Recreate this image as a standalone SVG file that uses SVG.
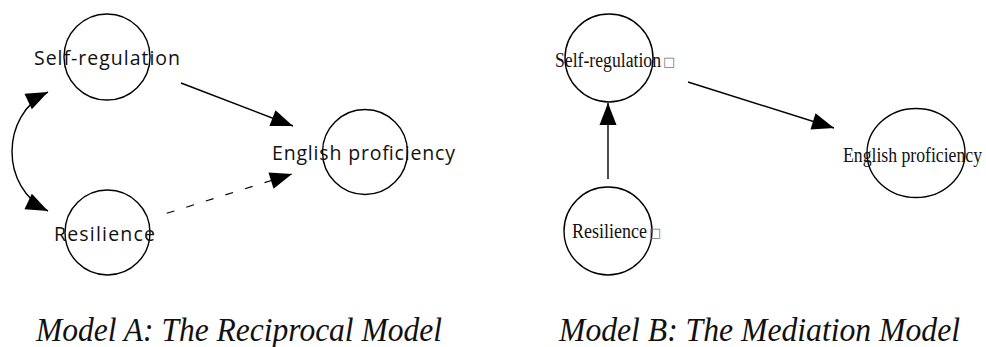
<svg xmlns="http://www.w3.org/2000/svg" width="986" height="347" viewBox="0 0 986 347">
  <style>
    .node { fill: none; stroke: #000; stroke-width: 1.4; }
    .edge { fill: none; stroke: #000; stroke-width: 1.4; }
    .dash { stroke-width: 1.1; stroke-dasharray: 8 12.5; }
    .sans { font-family: "Open Sans", "DejaVu Sans", sans-serif; font-size: 19.5px; fill: #111; }
    .serif { font-family: "Liberation Serif", "Times New Roman", serif; font-size: 20px; fill: #111; }
    .box { font-family: "DejaVu Sans", sans-serif; font-size: 13px; fill: #777; }
    .title { font-family: "Liberation Serif", "Times New Roman", serif; font-style: italic; font-size: 33px; fill: #111; }
  </style>
  <defs>
    <marker id="head" markerUnits="userSpaceOnUse" viewBox="-23 -9 24 18" refX="0" refY="0" markerWidth="24" markerHeight="18" orient="auto-start-reverse">
      <path d="M0,0 L-22,-8.5 L-22,8.5 Z" fill="#000"/>
    </marker>
  </defs>
  <rect width="986" height="347" fill="#fff"/>

  <!-- Model A: reciprocal model -->
  <g id="a-self-regulation">
    <circle class="node" cx="107" cy="57" r="43"/>
    <text class="sans" x="34" y="65" textLength="146" lengthAdjust="spacing">Self-regulation</text>
  </g>
  <g id="a-resilience">
    <circle class="node" cx="107.5" cy="232.5" r="42.5"/>
    <text class="sans" x="54" y="241" textLength="101" lengthAdjust="spacing">Resilience</text>
  </g>
  <g id="a-english">
    <circle class="node" cx="365" cy="152" r="42.5"/>
    <text class="sans" x="272" y="160" textLength="183" lengthAdjust="spacing">English proficiency</text>
  </g>

  <!-- Model B: mediation model -->
  <g id="b-self-regulation">
    <ellipse class="node" cx="609" cy="58" rx="44" ry="44"/>
    <text class="serif" x="555" y="67"><tspan textLength="106" lengthAdjust="spacingAndGlyphs">Self-regulation</tspan><tspan class="box" dx="2" dy="-1">□</tspan></text>
  </g>
  <g id="b-resilience">
    <ellipse class="node" cx="608" cy="231" rx="44" ry="44"/>
    <text class="serif" x="572" y="238"><tspan textLength="75" lengthAdjust="spacingAndGlyphs">Resilience</tspan><tspan class="box" dx="2" dy="-1">□</tspan></text>
  </g>
  <g id="b-english">
    <ellipse class="node" cx="916" cy="153" rx="49" ry="44.5"/>
    <text class="serif" x="843" y="162" textLength="139" lengthAdjust="spacingAndGlyphs">English proficiency</text>
  </g>

  <g id="connectors">
    <path class="edge" d="M48,92 C0,115 0,188 48,211" marker-start="url(#head)" marker-end="url(#head)"/>
    <path class="edge" d="M181,83 L293,126" marker-end="url(#head)"/>
    <path class="edge dash" d="M166.7,213.3 L292,174" marker-end="url(#head)"/>
    <path class="edge" d="M608,179 L608,103" marker-end="url(#head)"/>
    <path class="edge" d="M688,82 L834,128" marker-end="url(#head)"/>
  </g>

  <g id="captions">
    <text class="title" x="36" y="341" textLength="406" lengthAdjust="spacingAndGlyphs">Model A: The Reciprocal Model</text>
    <text class="title" x="559" y="341" textLength="401" lengthAdjust="spacingAndGlyphs">Model B: The Mediation Model</text>
  </g>
</svg>
